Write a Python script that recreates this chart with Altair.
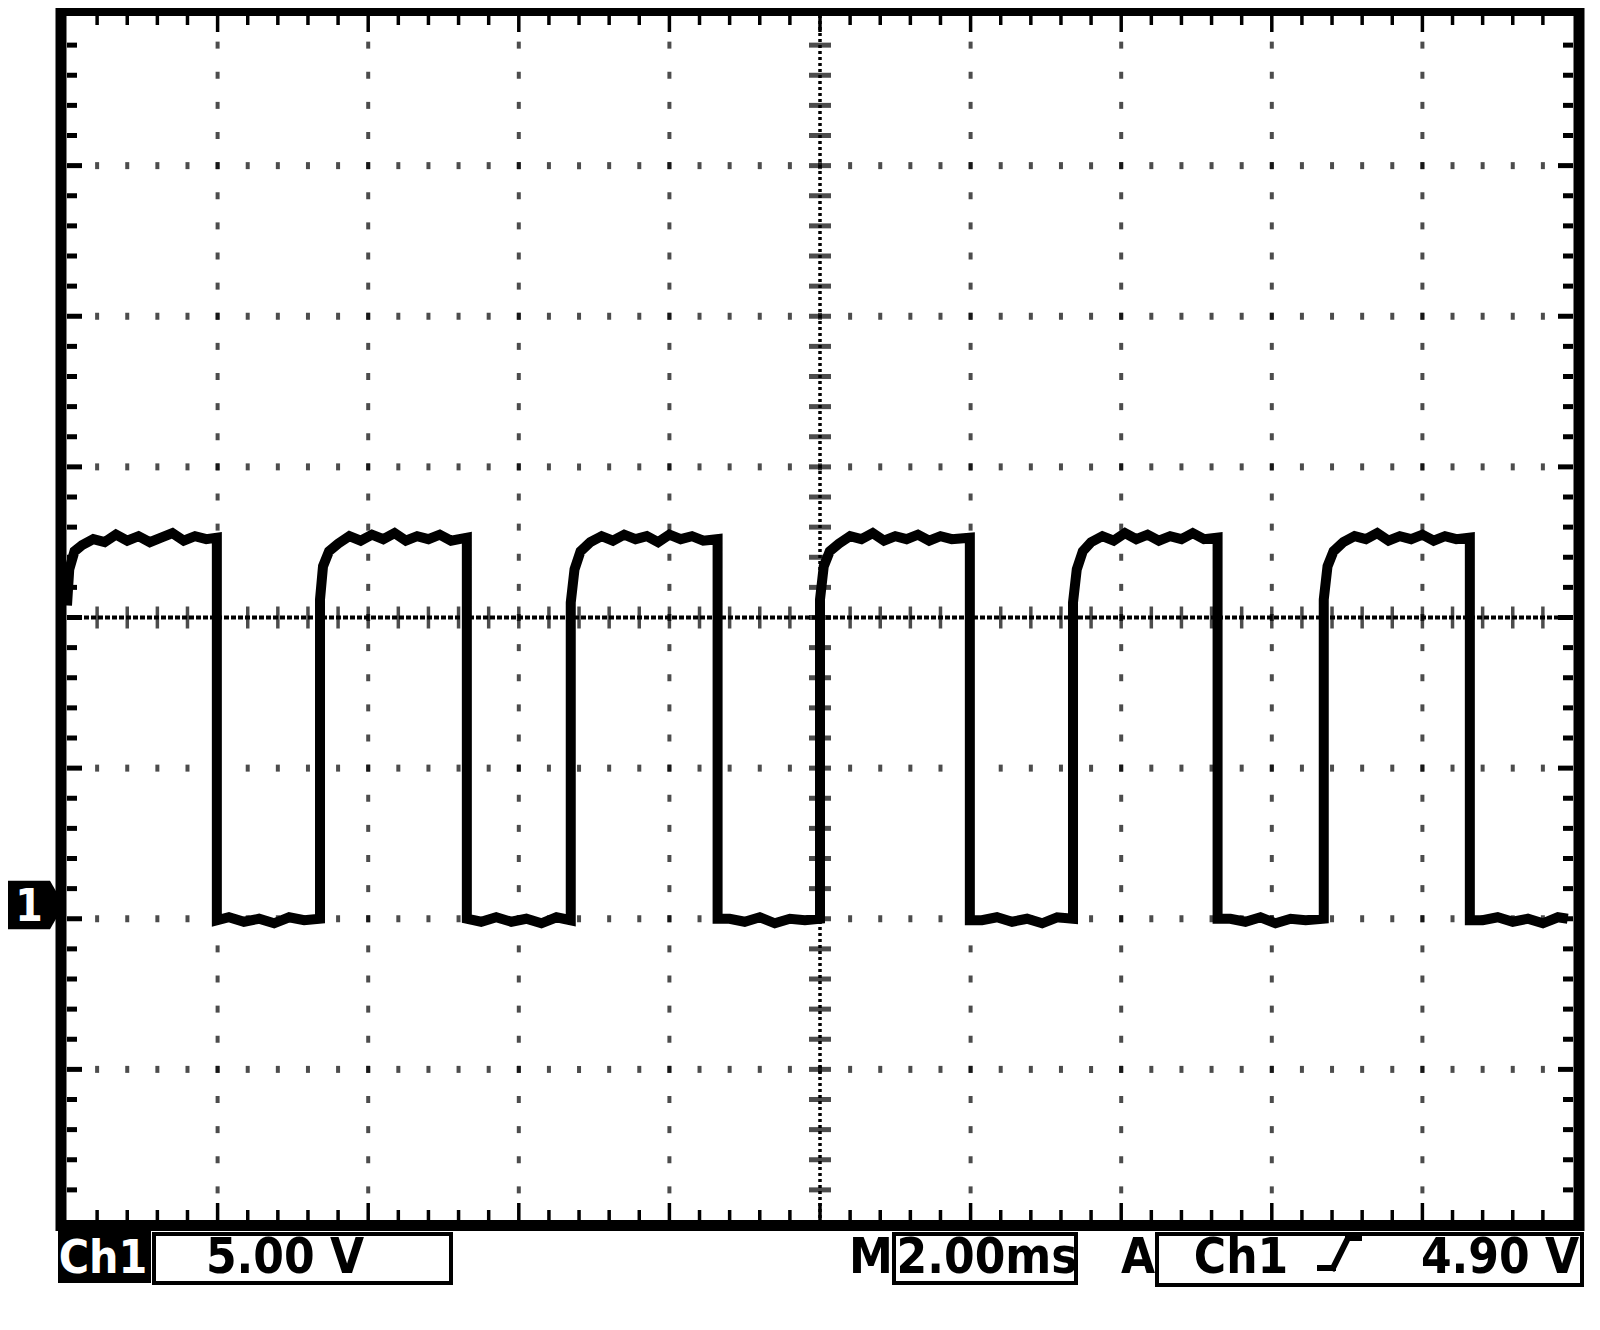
import altair as alt
import pandas as pd

# ---------------- data ----------------
# Trace: time (ms) and voltage relative to the channel-1 ground marker (V)
trace_t = [
    0.00, 0.03, 0.10, 0.20,
    0.35, 0.50, 0.65, 0.80, 0.95, 1.10, 1.25, 1.40, 1.55, 1.70, 1.85, 1.99,
    1.99, 2.15, 2.35, 2.55, 2.75, 2.95, 3.15, 3.36,
    3.36, 3.40, 3.48, 3.60,
    3.75, 3.90, 4.05, 4.20, 4.35, 4.50, 4.65, 4.80, 4.95, 5.10, 5.31,
    5.31, 5.50, 5.70, 5.90, 6.10, 6.30, 6.50, 6.69,
    6.69, 6.74, 6.82, 6.95,
    7.10, 7.25, 7.40, 7.55, 7.70, 7.85, 8.00, 8.15, 8.30, 8.45, 8.64,
    8.64, 8.80, 9.00, 9.20, 9.40, 9.60, 9.80, 10.00,
    10.00, 10.05, 10.13, 10.25,
    10.40, 10.55, 10.70, 10.85, 11.00, 11.15, 11.30, 11.45, 11.60, 11.75, 11.99,
    11.99, 12.15, 12.35, 12.55, 12.75, 12.95, 13.15, 13.36,
    13.36, 13.41, 13.49, 13.60,
    13.75, 13.90, 14.05, 14.20, 14.35, 14.50, 14.65, 14.80, 14.95, 15.10, 15.28,
    15.28, 15.45, 15.65, 15.85, 16.05, 16.25, 16.45, 16.69,
    16.69, 16.74, 16.82, 16.95,
    17.10, 17.25, 17.40, 17.55, 17.70, 17.85, 18.00, 18.15, 18.30, 18.45, 18.63,
    18.63, 18.80, 19.00, 19.20, 19.40, 19.60, 19.80, 19.93,
]
trace_v = [
    10.4, 11.6, 12.2, 12.4,
    12.6, 12.5, 12.75, 12.55, 12.7, 12.5, 12.65, 12.8, 12.55, 12.7, 12.6, 12.65,
    -0.05, 0.05, -0.1, 0.0, -0.15, 0.05, -0.05, 0.0,
    10.6, 11.7, 12.2, 12.45,
    12.7, 12.55, 12.75, 12.6, 12.8, 12.55, 12.7, 12.6, 12.75, 12.55, 12.65,
    0.0, -0.1, 0.05, -0.1, 0.0, -0.15, 0.05, -0.05,
    10.5, 11.6, 12.2, 12.5,
    12.7, 12.55, 12.75, 12.6, 12.7, 12.5, 12.75, 12.6, 12.7, 12.55, 12.6,
    0.0, 0.0, -0.1, 0.05, -0.15, 0.0, -0.05, 0.0,
    10.6, 11.7, 12.2, 12.45,
    12.7, 12.6, 12.8, 12.55, 12.7, 12.6, 12.75, 12.55, 12.7, 12.6, 12.65,
    -0.05, -0.05, 0.05, -0.1, 0.0, -0.15, 0.05, 0.0,
    10.5, 11.6, 12.2, 12.5,
    12.7, 12.55, 12.8, 12.6, 12.75, 12.55, 12.7, 12.6, 12.8, 12.6, 12.65,
    0.0, 0.0, -0.1, 0.05, -0.15, 0.0, -0.05, 0.0,
    10.6, 11.7, 12.2, 12.5,
    12.7, 12.6, 12.8, 12.55, 12.7, 12.6, 12.75, 12.55, 12.7, 12.6, 12.65,
    -0.05, -0.05, 0.05, -0.1, 0.0, -0.15, 0.05, 0.0,
]

# Readouts
ch_label = "Ch1"
volts_per_div_label = "5.00 V"
time_prefix = "M"
time_per_div_label = "2.00ms"
trig_mode = "A"
trig_source = "Ch1"
trig_level_label = "4.90 V"
marker_label = "1"

# Screen geometry (divisions / units)
n_xdiv = 10
n_ydiv = 8
minor_per_div = 5
ms_per_div = 2.0
v_per_div = 5.0
ground_div = 2          # ground marker sits 2 divisions above the bottom

# ---------------- derived ----------------
W, H = 1506, 1205
x_min, x_max = 0.0, n_xdiv * ms_per_div
y_min, y_max = -ground_div * v_per_div, (n_ydiv - ground_div) * v_per_div
xc = x_max / 2
yc = (y_min + y_max) / 2
x_step = ms_per_div / minor_per_div
y_step = v_per_div / minor_per_div
px_per_ms = W / (x_max - x_min)
px_per_v = H / (y_max - y_min)

xs = alt.Scale(domain=[x_min, x_max], nice=False, zero=False)
ys = alt.Scale(domain=[y_min, y_max], nice=False, zero=False)

def X(f="x"):
    return alt.X(f"{f}:Q", scale=xs, axis=None)

def Y(f="y"):
    return alt.Y(f"{f}:Q", scale=ys, axis=None)

FONT = "DejaVu Sans Condensed"
dummy = alt.Data(values=[{}])

# graticule dots on major lines (not centre)
dots = []
for i in range(1, n_xdiv):
    if i * 2 == n_xdiv:
        continue
    for k in range(1, n_ydiv * minor_per_div):
        dots.append({"x": i * ms_per_div, "y": y_min + k * y_step})
for j in range(1, n_ydiv):
    if j * 2 == n_ydiv:
        continue
    for k in range(1, n_xdiv * minor_per_div):
        dots.append({"x": k * x_step, "y": y_min + j * v_per_div})
dots_df = pd.DataFrame(dots)

# centre-line ticks
cx_ticks = pd.DataFrame([{"x": k * x_step, "y": yc} for k in range(1, n_xdiv * minor_per_div)])
cy_ticks = pd.DataFrame([{"x": xc, "y": y_min + k * y_step} for k in range(1, n_ydiv * minor_per_div)])

# edge ticks (inside the frame only)
lr = []
for k in range(1, n_ydiv * minor_per_div):
    L = (15 if k % minor_per_div == 0 else 10) / px_per_ms
    yv = y_min + k * y_step
    lr.append({"x": x_min, "x2": x_min + L, "y": yv})
    lr.append({"x": x_max - L, "x2": x_max, "y": yv})
lr_df = pd.DataFrame(lr)
tb = []
for k in range(1, n_xdiv * minor_per_div):
    L = (17 if k % minor_per_div == 0 else 10) / px_per_v
    xv = k * x_step
    tb.append({"x": xv, "y": y_max - L, "y2": y_max})
    tb.append({"x": xv, "y": y_min, "y2": y_min + L})
tb_df = pd.DataFrame(tb)

trace_df = pd.DataFrame({"x": trace_t, "y": trace_v, "i": list(range(len(trace_t)))})

layers = []

layers.append(alt.Chart(dots_df).mark_tick(orient="vertical", thickness=4, size=7, color="black").encode(x=X(), y=Y()))
layers.append(alt.Chart(cx_ticks).mark_tick(orient="vertical", thickness=3.5, size=22, color="black").encode(x=X(), y=Y()))
layers.append(alt.Chart(cy_ticks).mark_tick(orient="horizontal", thickness=5, size=22, color="black").encode(x=X(), y=Y()))
layers.append(alt.Chart(lr_df).mark_rule(strokeWidth=5, color="black", strokeCap="butt").encode(
    x=X(), x2="x2:Q", y=Y()))
layers.append(alt.Chart(tb_df).mark_rule(strokeWidth=3.5, color="black", strokeCap="butt").encode(
    x=X(), y=Y(), y2="y2:Q"))

# centre dashed lines
layers.append(alt.Chart(pd.DataFrame({"y": [yc]})).mark_rule(color="black", strokeWidth=4, strokeDash=[5, 2]).encode(y=Y()))
layers.append(alt.Chart(pd.DataFrame({"x": [xc]})).mark_rule(color="black", strokeWidth=3.5, strokeDash=[3, 3]).encode(x=X()))

# signal trace
layers.append(alt.Chart(trace_df).mark_line(color="black", strokeWidth=10, strokeJoin="miter", strokeCap="butt").encode(
    x=X(), y=Y(), order="i:Q"))

# frame
layers.append(alt.Chart(dummy).mark_rect(fill="transparent", stroke="black", strokeWidth=11).encode(
    x=alt.value(-6), x2=alt.value(W + 6), y=alt.value(-4.5), y2=alt.value(H + 5.5)))

# ground marker
layers.append(alt.Chart(dummy).mark_point(
    shape="M-1,-0.87L0.5,-0.87L1,0L0.5,0.87L-1,0.87Z", size=3136, filled=True, color="black", opacity=1
).encode(x=alt.value(-31), y=alt.value(890)))
layers.append(alt.Chart(dummy).mark_text(text=marker_label, font=FONT, fontWeight="bold", fontSize=44,
                                         color="white", align="center", baseline="alphabetic").encode(
    x=alt.value(-38), y=alt.value(906)))

# readout boxes
layers.append(alt.Chart(dummy).mark_rect(fill="black").encode(
    x=alt.value(-9), x2=alt.value(84), y=alt.value(1215), y2=alt.value(1268)))
for (a, b, c, d) in [(87, 384, 1219, 1268), (827, 1009, 1219, 1268), (1090, 1515, 1219, 1270)]:
    layers.append(alt.Chart(dummy).mark_rect(fill="white", stroke="black", strokeWidth=4).encode(
        x=alt.value(a), x2=alt.value(b), y=alt.value(c), y2=alt.value(d)))

def label(txt, x, color="black", size=49):
    return alt.Chart(dummy).mark_text(text=txt, font=FONT, fontWeight="bold", fontSize=size, color=color,
                                      align="center", baseline="alphabetic").encode(
        x=alt.value(x), y=alt.value(1258))

layers.append(label(ch_label, 36, "white", 46))
layers.append(label(volts_per_div_label, 218))
layers.append(label(time_prefix, 804))
layers.append(label(time_per_div_label, 920))
layers.append(label(trig_mode, 1071))
layers.append(label(trig_source, 1174))
layers.append(label(trig_level_label, 1433))

# rising-edge trigger symbol
for (a, b, c, d) in [(1253, 1266, 1253, 1253), (1266, 1281, 1253, 1223), (1281, 1292, 1223, 1223)]:
    layers.append(alt.Chart(dummy).mark_rule(color="black", strokeWidth=6, strokeCap="square").encode(
        x=alt.value(a), x2=alt.value(b), y=alt.value(c), y2=alt.value(d)))

chart = alt.layer(*layers).properties(
    width=W, height=H,
    autosize=alt.AutoSizeParams(type="none"),
    padding={"left": 59, "top": 7, "right": 16, "bottom": 100},
    background="white",
).configure_view(strokeWidth=0)

chart.save("out.html", embed_options={"renderer": "svg", "actions": False})
